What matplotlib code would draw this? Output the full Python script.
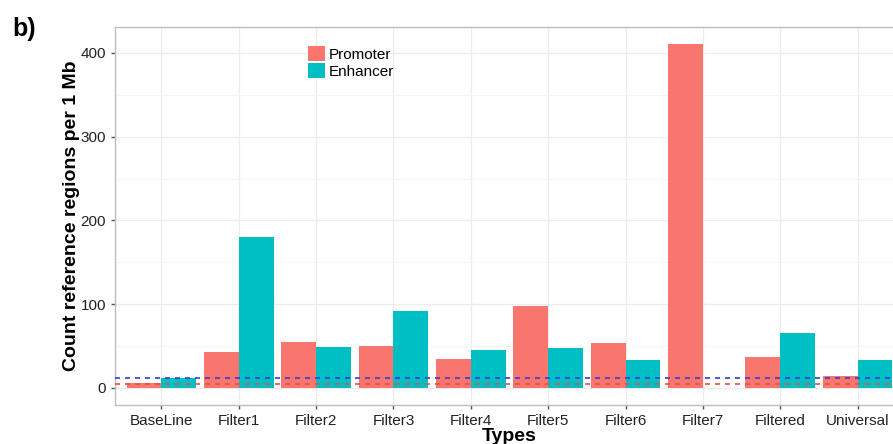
import matplotlib.pyplot as plt
import numpy as np

plt.rcParams['font.family'] = ['Liberation Sans', 'DejaVu Sans']

# data
types = ["BaseLine", "Filter1", "Filter2", "Filter3", "Filter4",
         "Filter5", "Filter6", "Filter7", "Filtered", "Universal"]
promoter = [6, 43, 54.6, 49.8, 35, 97.6, 53.4, 410.6, 36.6, 14.3]
enhancer = [12, 180, 48.6, 92, 44.6, 47, 33, 0, 65.7, 33.8]
promoter_ref = 4.8   # red dashed line
enhancer_ref = 12.3  # blue dashed line

PROM_COLOR = "#F8766D"
ENH_COLOR = "#00BFC4"

fig = plt.figure(figsize=(8.93, 4.44), dpi=100)
# panel runs past the right edge, as in the cropped reference
ax = fig.add_axes([115 / 893, 1 - 405 / 444, (904 - 115) / 893, (405 - 27) / 444])

x = np.arange(len(types))
w = 0.45
ax.bar(x - w / 2, promoter, width=w, color=PROM_COLOR, label="Promoter", zorder=2)
ax.bar(x + w / 2, enhancer, width=w, color=ENH_COLOR, label="Enhancer", zorder=2)

ax.axhline(enhancer_ref, color="#3a3ad8", linestyle=(0, (3, 3)), linewidth=1.2, zorder=3)
ax.axhline(promoter_ref, color="#e8504a", linestyle=(0, (3, 3)), linewidth=1.2, zorder=3)

ax.set_xlim(-0.6, len(types) - 0.4)
ax.set_ylim(-20.5, 431)
ax.set_yticks([0, 100, 200, 300, 400])
ax.set_yticks([50, 150, 250, 350], minor=True)
ax.set_xticks(x)
ax.set_xticklabels(types)

ax.grid(True, which="major", color="#ececec", linewidth=0.9, zorder=0)
ax.grid(True, which="minor", axis="y", color="#f5f5f5", linewidth=0.6, zorder=0)
ax.set_axisbelow(True)
for s in ax.spines.values():
    s.set_color("#bdbdbd")
    s.set_linewidth(1.0)
ax.tick_params(axis="both", which="major", colors="#555555", length=3, width=1,
               labelsize=11, labelcolor="#222222")
ax.tick_params(axis="y", which="minor", length=0)

ax.set_xlabel("Types", fontsize=14, fontweight="bold", labelpad=0)
ax.set_ylabel("Count reference regions per 1 Mb", fontsize=14, fontweight="bold", labelpad=0)

ax.legend(loc="upper left", bbox_to_anchor=(0.2365, 0.965), frameon=False,
          fontsize=11, handlelength=1.1, handleheight=1.1, handletextpad=0.3,
          labelspacing=0.1, borderaxespad=0)

fig.text(12 / 893, 1 - 36 / 444, "b)", fontsize=18, fontweight="bold")

fig.savefig("out.png", dpi=100)
